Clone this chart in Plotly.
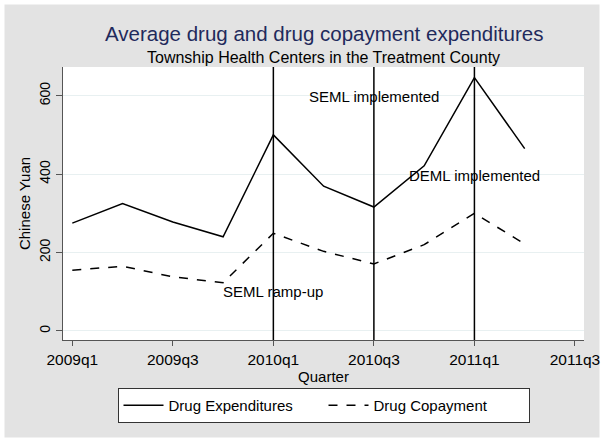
import plotly.graph_objects as go

quarters = ["2009q1", "2009q2", "2009q3", "2009q4", "2010q1", "2010q2",
            "2010q3", "2010q4", "2011q1", "2011q2"]
drug_exp = [275, 325, 278, 240, 500, 369, 316, 421, 646, 465]
drug_copay = [155, 165, 138, 123, 249, 203, 171, 220, 300, 222]

tick_labels = ["2009q1", "2009q3", "2010q1", "2010q3", "2011q1", "2011q3"]
tick_index = [0, 2, 4, 6, 8, 10]
event_index = [4, 6, 8]
notes = [("SEML ramp-up", 4, 100), ("SEML implemented", 6, 597), ("DEML implemented", 8, 397)]

title_text = "Average drug and drug copayment expenditures"
subtitle_text = "Township Health Centers in the Treatment County"

x = list(range(len(quarters)))
FONT = "Liberation Sans, Arial, sans-serif"

W, H = 604, 442
L, R, T, B = 63, 20, 67, 102
pw, ph = W - L - R, H - T - B

def py(pix):
    return (H - B - pix) / ph

def px(pix):
    return (pix - L) / pw

fig = go.Figure()
fig.add_trace(go.Scatter(x=x, y=drug_exp, mode="lines", name="Drug Expenditures",
                         line=dict(color="black", width=1.5)))
fig.add_trace(go.Scatter(x=x, y=drug_copay, mode="lines", name="Drug Copayment",
                         line=dict(color="black", width=1.5, dash="dash")))

for ev in event_index:
    fig.add_shape(type="line", xref="x", yref="paper", x0=ev, x1=ev, y0=0, y1=1,
                  line=dict(color="black", width=1.5))

for txt, xi, yv in notes:
    fig.add_annotation(x=xi, y=yv, text=txt, showarrow=False, xanchor="center", yanchor="middle",
                       font=dict(family=FONT, size=15, color="black"))

fig.add_annotation(x=0.5, xref="paper", y=py(33), yref="paper", text=title_text, showarrow=False,
                   xanchor="center", yanchor="middle",
                   font=dict(family=FONT, size=20.5, color="#1f2a5c"))
fig.add_annotation(x=0.5, xref="paper", y=py(58), yref="paper", text=subtitle_text, showarrow=False,
                   xanchor="center", yanchor="middle",
                   font=dict(family=FONT, size=16, color="black"))

# white outer frame around the grey graph region
fig.add_shape(type="rect", xref="paper", yref="paper", layer="below",
              x0=px(0), x1=px(W), y0=py(H), y1=py(0),
              line=dict(color="white", width=9), fillcolor="rgba(0,0,0,0)")

fig.update_layout(
    width=W, height=H,
    margin=dict(l=L, r=R, t=T, b=B, autoexpand=False),
    paper_bgcolor="#e3e3e3", plot_bgcolor="white",
    font=dict(family=FONT, size=15, color="black"),
    xaxis=dict(range=[-0.185, 10.18], tickmode="array", tickvals=tick_index, ticktext=tick_labels,
               showgrid=False, zeroline=False, showline=True, linecolor="#555555", linewidth=1,
               ticks="outside", ticklen=5, tickcolor="#555555", automargin=False,
               title=dict(text="Quarter", standoff=0, font=dict(size=15)),
               tickfont=dict(size=15.5)),
    yaxis=dict(range=[-23, 673], tickvals=[0, 200, 400, 600], tickangle=-90,
               showgrid=True, gridcolor="#e8f0f1", gridwidth=1, zeroline=False,
               showline=True, linecolor="#555555", linewidth=1,
               ticks="outside", ticklen=6, tickcolor="#555555", automargin=False,
               title=dict(text="Chinese Yuan", standoff=3, font=dict(size=15)),
               tickfont=dict(size=14)),
    legend=dict(orientation="h", x=0.5, xanchor="center", y=py(388), yanchor="top",
                bgcolor="white", bordercolor="#333333", borderwidth=1,
                font=dict(size=15), entrywidthmode="pixels", entrywidth=150,
                itemwidth=40),
    showlegend=True,
)

fig.write_html("out.html", config={"displayModeBar": False},
               post_script="document.body.style.margin='0';")
